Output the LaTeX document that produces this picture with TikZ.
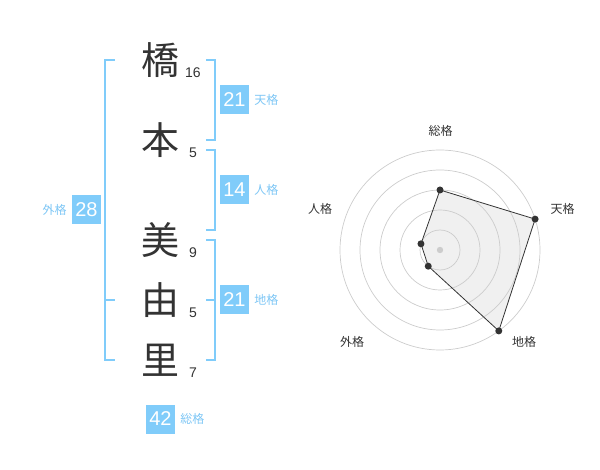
\documentclass[tikz,border=0pt]{standalone}
\usepackage{fontspec}
\setmainfont{Liberation Sans}
\newfontfamily\jpfont{Noto Sans CJK JP}
\usetikzlibrary{positioning}
\definecolor{kkblue}{RGB}{128,204,250}
\definecolor{kklabel}{RGB}{125,198,245}
\definecolor{kkdark}{RGB}{51,51,51}
\definecolor{kkgrid}{RGB}{204,204,204}
\definecolor{kkfill}{RGB}{240,240,240}

\begin{document}
\begin{tikzpicture}[x=1pt, y=-1pt,
  kanji/.style={font=\jpfont\fontsize{38}{38}\selectfont, text=kkdark, inner sep=0pt},
  strokes/.style={font=\fontsize{14}{14}\selectfont, text=kkdark, inner sep=0pt},
  valbox/.style={fill=kkblue, text=white, font=\fontsize{20}{20}\selectfont, minimum size=29pt, inner sep=0pt},
  kaku/.style={font=\jpfont\fontsize{12}{12}\selectfont, text=kklabel, inner sep=0pt},
  bracket/.style={draw=kkblue, line width=2pt},
  axislabel/.style={font=\jpfont\fontsize{12}{12}\selectfont, text=kkdark, inner sep=0pt},
  dot/.style={circle, fill=kkdark, inner sep=0pt, minimum size=7pt}]
\useasboundingbox (0,0) rectangle (600,470);
% Name
\node[kanji] (k1) at (160,60) {橋};
\node[kanji] (k2) at (160,140) {本};
\node[kanji] (k3) at (160,240) {美};
\node[kanji] (k4) at (160,300) {由};
\node[kanji] (k5) at (160,360) {里};
% Strokes
\node[strokes] (s1) at (193,73) {16};
\node[strokes] (s2) at (193,153) {5};
\node[strokes] (s3) at (193,253) {9};
\node[strokes] (s4) at (193,313) {5};
\node[strokes] (s5) at (193,373) {7};
% Brackets
\draw[bracket] (206,60) -- (215,60) -- (215,140) -- (206,140);
\draw[bracket] (206,150) -- (215,150) -- (215,230) -- (206,230);
\draw[bracket] (206,240) -- (215,240) -- (215,360) -- (206,360);
\draw[bracket] (206,300) -- (215,300);
\draw[bracket] (115,60) -- (105,60) -- (105,360) -- (115,360);
\draw[bracket] (105,300) -- (115,300);
% Values
\node[valbox] (ten) at (234.5,100) {21};
\node[kaku, right=5pt of ten] (tenl) {天格};
\node[valbox] (jin) at (234.5,190) {14};
\node[kaku, right=5pt of jin] (jinl) {人格};
\node[valbox] (chi) at (234.5,300) {21};
\node[kaku, right=5pt of chi] (chil) {地格};
\node[valbox] (gai) at (86.5,210) {28};
\node[kaku, left=5pt of gai] (gail) {外格};
\node[valbox] (sou) at (160.5,419) {42};
\node[kaku, right=5pt of sou] (soul) {総格};
% Radar
\begin{scope}[shift={(440,250)}]
\coordinate (v1) at (-90:60);
\coordinate (v2) at (-18:100);
\coordinate (v3) at (54:100);
\coordinate (v4) at (126:20);
\coordinate (v5) at (198:20);
\fill[kkfill] (v1) -- (v2) -- (v3) -- (v4) -- (v5) -- cycle;
\foreach \r in {20,40,60,80,100}
  \draw[kkgrid, line width=0.7pt] (0,0) circle[radius=\r pt];
\fill[kkgrid] (0,0) circle[radius=3.2pt];
\draw[kkdark, line width=0.8pt] (v1) -- (v2) -- (v3) -- (v4) -- (v5) -- cycle;
\foreach \i in {1,...,5}
  \node[dot] (d\i) at (v\i) {};
\end{scope}
% Labels
\node[axislabel] (a1) at (440.5,130.5) {総格};
\node[axislabel] (a2) at (562.5,208.5) {天格};
\node[axislabel] (a3) at (524,342) {地格};
\node[axislabel] (a4) at (352,342) {外格};
\node[axislabel] (a5) at (320,208.5) {人格};
\end{tikzpicture}
\end{document}
